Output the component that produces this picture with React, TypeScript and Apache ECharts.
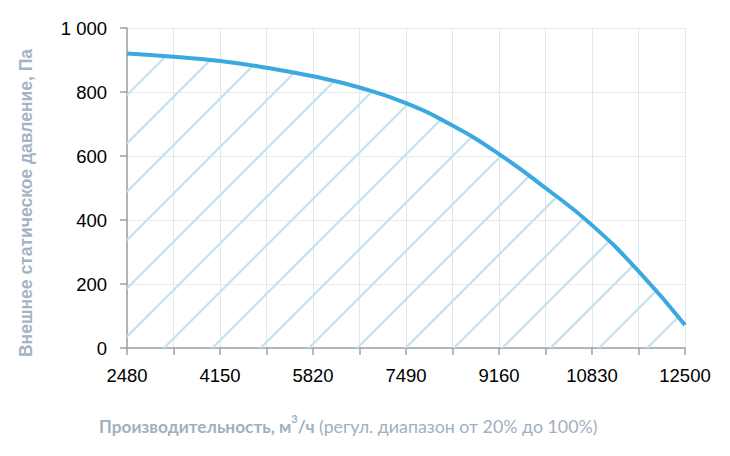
import React, { useEffect, useRef } from "react";
import * as echarts from "echarts";

const flowCategories = ["2480", "3315", "4150", "4985", "5820", "6655", "7490", "8325", "9160", "9995", "10830", "11665", "12500"];
const pressureValues = [920, 910, 897, 876, 849, 814, 765, 695, 606, 500, 384, 240, 72];
const yTicks = { min: 0, max: 1000, interval: 200 };
const yAxisTitle = "Внешнее статическое давление, Па";
const xAxisTitleBold = "Производительность, м";
const xAxisTitleSup = "3";
const xAxisTitleBold2 = "/ч";
const xAxisTitleRest = " (регул. диапазон от 20% до 100%)";

function makeHatch(): HTMLCanvasElement {
  const size = 145;
  const step = size / 3;
  const c = document.createElement("canvas");
  c.width = size;
  c.height = size;
  const ctx = c.getContext("2d")!;
  ctx.strokeStyle = "#c4e2ee";
  ctx.lineWidth = 2.2;
  const off = 512 % step;
  for (let k = -8; k <= 12; k++) {
    const cc = off + step * k;
    ctx.beginPath();
    ctx.moveTo(-60, cc + 60);
    ctx.lineTo(size + 60, cc - size - 60);
    ctx.stroke();
  }
  return c;
}

export default function App() {
  const ref = useRef<HTMLDivElement>(null);
  useEffect(() => {
    if (!ref.current) return;
    const chart = echarts.init(ref.current, undefined, { renderer: "svg" });
    const hatch = makeHatch();
    const tickFont = "'Liberation Sans Narrow', 'Arial Narrow', sans-serif";
    const titleColor = "#9fb0c1";
    chart.setOption({
      animation: false,
      backgroundColor: "#ffffff",
      grid: { left: 127, right: 45, top: 28, bottom: 108, containLabel: false },
      xAxis: {
        type: "category",
        data: flowCategories,
        boundaryGap: false,
        axisLine: { show: true, lineStyle: { color: "#a0a0a0", width: 1.5 } },
        axisTick: { show: true, interval: 0, length: 7, lineStyle: { color: "#a0a0a0", width: 1.5 } },
        axisLabel: { interval: 1, margin: 18, color: "#000", fontSize: 18.5, fontFamily: tickFont },
        splitLine: { show: true, interval: 0, lineStyle: { color: "#dce8f4", width: 1 } },
      },
      yAxis: {
        type: "value",
        min: yTicks.min,
        max: yTicks.max,
        interval: yTicks.interval,
        axisLine: { show: true, lineStyle: { color: "#a0a0a0", width: 1.5 } },
        axisTick: { show: true, length: 7, lineStyle: { color: "#a0a0a0", width: 1.5 } },
        axisLabel: {
          margin: 20,
          color: "#000",
          fontSize: 18.5,
          fontFamily: tickFont,
          formatter: (v: number) => (v >= 1000 ? String(v).replace(/(\d)(?=(\d{3})+$)/g, "$1 ") : String(v)),
        },
        splitLine: { show: true, lineStyle: { color: "#e6ecf2", width: 1 } },
      },
      graphic: [
        {
          type: "text",
          x: 26,
          y: 203,
          rotation: Math.PI / 2,
          style: {
            text: yAxisTitle,
            fill: "#a3b4c5",
            font: "bold 17.5px 'Liberation Sans', Arial, sans-serif",
            align: "center",
            verticalAlign: "middle",
          },
        },
        {
          type: "text",
          x: 99,
          y: 424,
          style: {
            text: `{b|${xAxisTitleBold}}{s|${xAxisTitleSup}}{b|${xAxisTitleBold2}}{r|${xAxisTitleRest}}`,
            align: "left",
            verticalAlign: "middle",
            rich: {
              b: { fontFamily: "Lato, sans-serif", fontWeight: "bold", fontSize: 17.3, fill: titleColor, lineHeight: 22, verticalAlign: "bottom" },
              s: { fontFamily: "Lato, sans-serif", fontWeight: "bold", fontSize: 11, fill: titleColor, lineHeight: 22, verticalAlign: "top" },
              r: { fontFamily: "Lato, sans-serif", fontSize: 17.8, fill: titleColor, lineHeight: 22, verticalAlign: "bottom" },
            },
          },
        },
      ],
      series: [
        {
          type: "line",
          data: pressureValues,
          smooth: 0.5,
          symbol: "none",
          lineStyle: { color: "#3aa9e0", width: 4 },
          areaStyle: {
            color: { image: hatch, repeat: "repeat", imageWidth: hatch.width, imageHeight: hatch.height } as any,
            opacity: 1,
          },
          z: 3,
        },
      ],
    });
    return () => chart.dispose();
  }, []);
  return <div ref={ref} style={{ position: "fixed", left: 0, top: 0, width: 730, height: 456 }} />;
}
